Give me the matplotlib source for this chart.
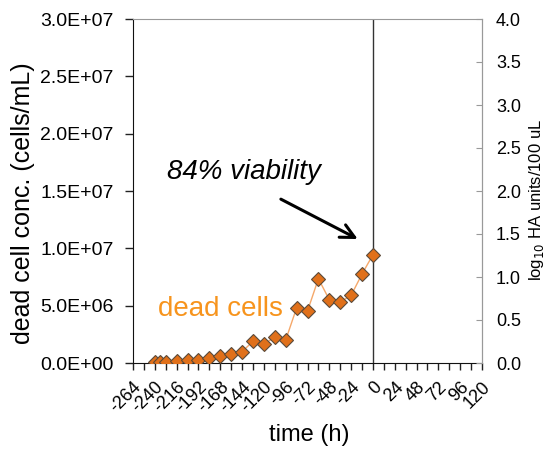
import matplotlib
matplotlib.use('Agg')
import matplotlib.pyplot as plt
from matplotlib.ticker import MultipleLocator, FuncFormatter

plt.rcParams['font.family'] = ['Liberation Sans', 'DejaVu Sans']

# time (h) and dead cell concentration (cells/mL)
time_h = [-240, -234, -228, -216, -204, -192, -180, -168, -156, -144, -132,
          -120, -108, -96, -84, -72, -60, -48, -36, -24, -12, 0]
dead_cells = [0.05e6, 0.05e6, 0.06e6, 0.15e6, 0.24e6, 0.29e6, 0.44e6, 0.58e6,
              0.76e6, 0.99e6, 1.89e6, 1.66e6, 2.24e6, 2.0e6, 4.80e6, 4.53e6,
              7.35e6, 5.52e6, 5.32e6, 5.90e6, 7.76e6, 9.44e6]

x_ticks = list(range(-264, 121, 24))

fig = plt.figure(figsize=(5.46, 4.5), dpi=100)
ax = fig.add_axes([133 / 546, 1 - 363 / 450, 349 / 546, 344 / 450])

ax.plot(time_h, dead_cells, color='#F5A86A', lw=1, zorder=2)
ax.plot(time_h, dead_cells, ls='none', marker='D', ms=7,
        mfc='#E0701A', mec='#5A4A3A', mew=0.8, zorder=3)

ax.axvline(0, color='#333333', lw=1, zorder=1)

ax.set_xlim(-264, 120)
ax.set_ylim(0, 3.0e7)
ax.set_xticks(x_ticks)
ax.xaxis.set_minor_locator(MultipleLocator(12))
ax.set_xticklabels([str(t) for t in x_ticks], rotation=45, ha='right',
                   rotation_mode='anchor', fontsize=13)
ax.yaxis.set_major_locator(MultipleLocator(5e6))
ax.yaxis.set_major_formatter(FuncFormatter(lambda v, p: f'{v:.1E}'))
ax.tick_params(axis='y', labelsize=14, length=6, width=1, color='#222222',
               pad=8)
ax.tick_params(axis='x', which='both', length=5, width=1, color='#222222',
               pad=6)

for s in ['left', 'bottom']:
    ax.spines[s].set_color('#111111')
for s in ['top', 'right']:
    ax.spines[s].set_color('#999999')

ax.set_xlabel('time (h)', fontsize=17)
ax.xaxis.set_label_coords(176 / 349, (363 - 424) / 344)
ax.set_ylabel('dead cell conc. (cells/mL)', fontsize=18)
ax.yaxis.set_label_coords((35 - 133) / 349, (363 - 203) / 344)

ax2 = ax.twinx()
ax2.set_ylim(0, 4.0)
ax2.yaxis.set_major_locator(MultipleLocator(0.5))
ax2.yaxis.set_major_formatter(FuncFormatter(lambda v, p: f'{v:.1f}'))
ax2.tick_params(axis='y', labelsize=13, length=4, direction='in',
                color='#999999', pad=10)
for s in ['left', 'bottom', 'top']:
    ax2.spines[s].set_visible(False)
ax2.spines['right'].set_color('#999999')
ax2.set_ylabel('log$_{10}$ HA units/100 uL', fontsize=12)
ax2.yaxis.set_label_coords((527 - 133) / 349, (363 - 200) / 344)

ax.text(-142, 1.67e7, '84% viability', fontsize=20, style='italic',
        ha='center', va='center')
ax.annotate('', xy=(-14, 1.07e7), xytext=(-104, 1.44e7),
            arrowprops=dict(arrowstyle='->', lw=2.2, color='black',
                            mutation_scale=25))
ax.text(-168, 4.7e6, 'dead cells', fontsize=20, color='#F7941D',
        ha='center', va='center')

fig.savefig('out.png', dpi=100)
